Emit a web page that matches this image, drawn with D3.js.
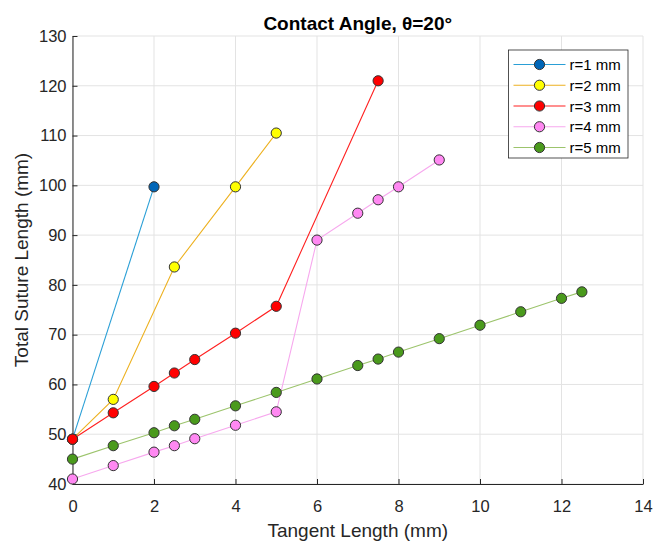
<!DOCTYPE html>
<html>
<head>
<meta charset="utf-8">
<script src="https://cdn.jsdelivr.net/npm/d3@7"></script>
<style>
  body { margin: 0; background: #fff; }
  text { font-family: "Liberation Sans", Arial, sans-serif; }
</style>
</head>
<body>
<div id="chart"></div>
<script>
// data
var r1X = [0, 2]
var r1Y = [49, 99.7]
var r2X = [0, 1, 2.5, 4, 5]
var r2Y = [49, 57, 83.6, 99.7, 110.5]
var r3X = [0, 1, 2, 2.5, 3, 4, 5, 7.5]
var r3Y = [49, 54.3, 59.6, 62.3, 65, 70.3, 75.7, 121]
var r4X = [0, 1, 2, 2.5, 3, 4, 5, 6, 7, 7.5, 8, 9]
var r4Y = [41, 43.7, 46.4, 47.7, 49.1, 51.8, 54.5, 89, 94.4, 97.1, 99.7, 105.1]
var r5X = [0, 1, 2, 2.5, 3, 4, 5, 6, 7, 7.5, 8, 9, 10, 11, 12, 12.5]
var r5Y = [45, 47.7, 50.3, 51.7, 53, 55.7, 58.4, 61.1, 63.8, 65.1, 66.5, 69.2, 71.9, 74.6, 77.3, 78.6]
var seriesNames = ["r=1 mm", "r=2 mm", "r=3 mm", "r=4 mm", "r=5 mm"]
var xTicks = [0, 2, 4, 6, 8, 10, 12, 14]
var yTicks = [40, 50, 60, 70, 80, 90, 100, 110, 120, 130]

var lineColors = ["#2a9fd6", "#edb120", "#ff2020", "#f7a8ee", "#9cc46c"]
var markColors = ["#0066b8", "#ffff00", "#ff0000", "#ff88f2", "#4a9a1c"]

var width = 654, height = 541
var margin = { top: 36, right: 11, bottom: 57, left: 72.5 }

var svg = d3.select("#chart").append("svg")
    .attr("width", width)
    .attr("height", height)

var x = d3.scaleLinear().domain([0, 14]).range([margin.left, width - margin.right])
var y = d3.scaleLinear().domain([40, 130]).range([height - margin.bottom, margin.top])

// grid
svg.append("g").selectAll("line")
    .data(xTicks)
    .enter().append("line")
    .attr("x1", d => x(d)).attr("x2", d => x(d))
    .attr("y1", y(40)).attr("y2", y(130))
    .attr("stroke", "#e3e3e3")
svg.append("g").selectAll("line")
    .data(yTicks)
    .enter().append("line")
    .attr("x1", x(0)).attr("x2", x(14))
    .attr("y1", d => y(d)).attr("y2", d => y(d))
    .attr("stroke", "#e3e3e3")

// axes
var xAxis = svg.append("g")
    .attr("transform", "translate(0," + y(40) + ")")
    .call(d3.axisBottom(x).tickValues(xTicks).tickSizeInner(-5).tickSizeOuter(0).tickPadding(16))
var yAxis = svg.append("g")
    .attr("transform", "translate(" + x(0) + ",0)")
    .call(d3.axisLeft(y).tickValues(yTicks).tickSizeInner(-5).tickSizeOuter(0).tickPadding(6))
;[xAxis, yAxis].forEach(function(a) {
    a.select(".domain").attr("stroke", "#262626")
    a.selectAll(".tick line").attr("stroke", "#262626")
    a.selectAll(".tick text").attr("fill", "#262626").style("font-size", "16.5px")
})

// series
var allX = [r1X, r2X, r3X, r4X, r5X]
var allY = [r1Y, r2Y, r3Y, r4Y, r5Y]
var series = allX.map(function(xs, i) {
    return xs.map(function(v, j) { return [v, allY[i][j]] })
})

var line = d3.line().x(d => x(d[0])).y(d => y(d[1]))

series.forEach(function(pts, i) {
    svg.append("path")
        .datum(pts)
        .attr("d", line)
        .attr("fill", "none")
        .attr("stroke", lineColors[i])
        .attr("stroke-width", 1.1)
})
series.forEach(function(pts, i) {
    svg.append("g").selectAll("circle")
        .data(pts)
        .enter().append("circle")
        .attr("cx", d => x(d[0]))
        .attr("cy", d => y(d[1]))
        .attr("r", 5.1)
        .attr("fill", markColors[i])
        .attr("stroke", "#333")
        .attr("stroke-width", 1)
})

// title and labels
svg.append("text")
    .attr("x", (x(0) + x(14)) / 2).attr("y", 30)
    .attr("text-anchor", "middle")
    .style("font-size", "19px").style("font-weight", "bold")
    .attr("fill", "#000")
    .text("Contact Angle, θ=20°")
svg.append("text")
    .attr("x", (x(0) + x(14)) / 2).attr("y", 537)
    .attr("text-anchor", "middle")
    .style("font-size", "19px")
    .attr("fill", "#262626")
    .text("Tangent Length (mm)")
svg.append("text")
    .attr("transform", "translate(28," + (y(40) + y(130)) / 2 + ") rotate(-90)")
    .attr("text-anchor", "middle")
    .style("font-size", "19px")
    .attr("fill", "#262626")
    .text("Total Suture Length (mm)")

// legend
var legend = svg.append("g").attr("transform", "translate(508.5,50)")
legend.append("rect")
    .attr("width", 119.5).attr("height", 108)
    .attr("fill", "#fff").attr("stroke", "#262626").attr("stroke-width", 0.8)
seriesNames.forEach(function(name, i) {
    var ly = 14.5 + i * 20.75
    legend.append("line")
        .attr("x1", 5).attr("x2", 57).attr("y1", ly).attr("y2", ly)
        .attr("stroke", lineColors[i]).attr("stroke-width", 1.1)
    legend.append("circle")
        .attr("cx", 31).attr("cy", ly).attr("r", 5.1)
        .attr("fill", markColors[i]).attr("stroke", "#333")
    legend.append("text")
        .attr("x", 61).attr("y", ly + 5.5)
        .style("font-size", "15px")
        .attr("fill", "#000")
        .text(name)
})
</script>
</body>
</html>
